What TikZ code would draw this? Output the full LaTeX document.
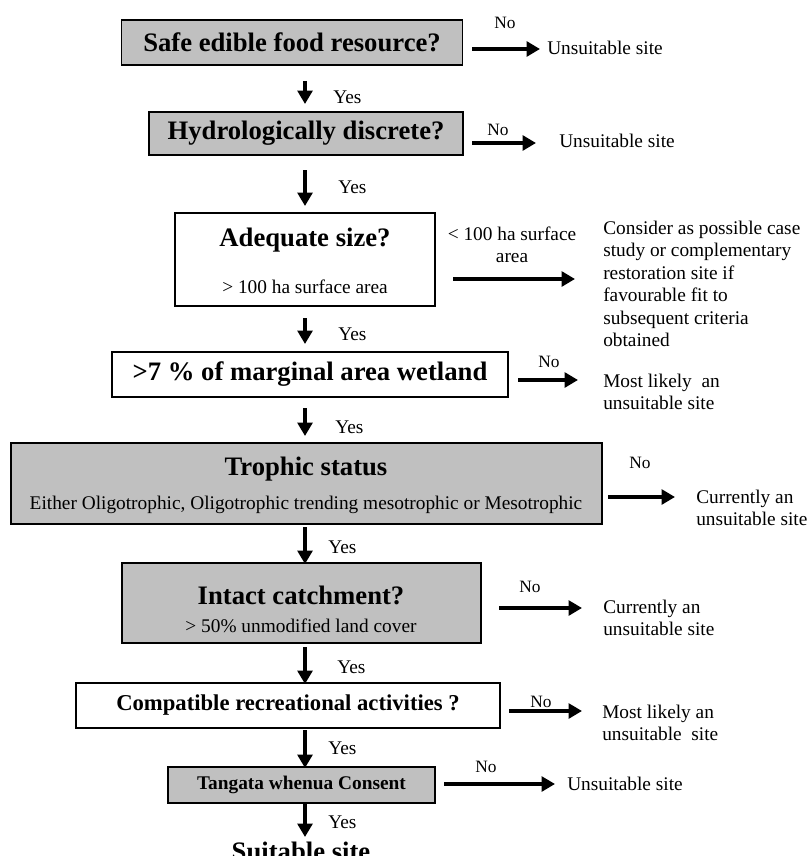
\documentclass[tikz,border=0pt]{standalone}
\usepackage{fontspec}
\setmainfont{Liberation Serif}
\usetikzlibrary{arrows.meta}
\def\pxu{0.75pt}
\newcommand\fTitle{\fontsize{20}{24}\selectfont\bfseries}
\newcommand\fMid{\fontsize{17}{20}\selectfont\bfseries}
\newcommand\fSmallB{\fontsize{14.5}{17}\selectfont\bfseries}
\newcommand\fBody{\fontsize{14.5}{16.9}\selectfont}
\newcommand\fNo{\fontsize{13}{15}\selectfont}
\definecolor{boxgray}{HTML}{C0C0C0}
\begin{document}
\begin{tikzpicture}[x=0.75pt,y=-0.75pt,
  wbox/.style={draw=black, line width=1.1pt, fill=white, inner sep=0pt},
  gbox/.style={wbox, fill=boxgray},
  txt/.style={inner sep=0pt, font=\fBody},
  nolbl/.style={inner sep=0pt, font=\fNo},
  arr/.style={line width=2.8pt, -{Triangle[length=10pt,width=11pt]}}
]
\useasboundingbox (0,0) rectangle (808,856);
\fill[white] (0,0) rectangle (808,856);

% --- 1: food resource
\node[gbox, minimum width=341*\pxu, minimum height=45*\pxu, font=\fTitle] (b1) at (292,42.5) {Safe edible food resource?};
\node[nolbl] (no1) at (505,23) {No};
\coordinate (r1a) at (472,49); \coordinate (r1b) at (540,49);
\draw[arr] (r1a) -- (r1b);
\node[txt, anchor=west] (t1) at (547,48) {Unsuitable site};
\coordinate (d1a) at (305,81); \coordinate (d1b) at (305,104);
\draw[arr] (d1a) -- (d1b);
\node[txt, anchor=west] (y1) at (333,97) {Yes};

% --- 2: hydrology
\node[gbox, minimum width=314*\pxu, minimum height=43*\pxu, font=\fTitle] (b2) at (306,133.5) {Hydrologically discrete?};
\node[nolbl] (no2) at (498,130) {No};
\coordinate (r2a) at (472,143); \coordinate (r2b) at (536,143);
\draw[arr] (r2a) -- (r2b);
\node[txt, anchor=west] (t2) at (559,141) {Unsuitable site};
\coordinate (d2a) at (305,170); \coordinate (d2b) at (305,206);
\draw[arr] (d2a) -- (d2b);
\node[txt, anchor=west] (y2) at (338,187) {Yes};

% --- 3: size
\node[wbox, minimum width=260*\pxu, minimum height=93*\pxu] (b3) at (305,259.5) {};
\node[inner sep=0pt, font=\fTitle] (b3t) at (305,240) {Adequate size?};
\node[txt] (b3s) at (305,287) {> 100 ha surface area};
\node[txt, align=center] (l3) at (512,245) {< 100 ha surface\\area};
\coordinate (r3a) at (453,279); \coordinate (r3b) at (575,279);
\draw[arr] (r3a) -- (r3b);
\node[txt, anchor=west, align=left] (t3) at (603,284)
  {Consider as possible case\\study or complementary\\restoration site if\\favourable fit to\\subsequent criteria\\obtained};
\coordinate (d3a) at (305,318); \coordinate (d3b) at (305,344);
\draw[arr] (d3a) -- (d3b);
\node[txt, anchor=west] (y3) at (338,334) {Yes};

% --- 4: marginal wetland
\node[wbox, minimum width=396*\pxu, minimum height=45*\pxu, font=\fTitle] (b4) at (310,374.5) {>7 \% of marginal area wetland};
\node[nolbl] (no4) at (549,362) {No};
\coordinate (r4a) at (518,380); \coordinate (r4b) at (578,380);
\draw[arr] (r4a) -- (r4b);
\node[txt, anchor=west, align=left] (t4) at (603,392) {Most likely~ an\\unsuitable site};
\coordinate (d4a) at (305,408); \coordinate (d4b) at (305,436);
\draw[arr] (d4a) -- (d4b);
\node[txt, anchor=west] (y4) at (335,427) {Yes};

% --- 5: trophic status
\node[gbox, minimum width=591*\pxu, minimum height=81*\pxu] (b5) at (306.5,483.5) {};
\node[inner sep=0pt, font=\fTitle] (b5t) at (306,469) {Trophic status};
\node[txt] (b5s) at (306,505) {Either Oligotrophic, Oligotrophic trending mesotrophic or Mesotrophic};
\node[nolbl] (no5) at (640,463) {No};
\coordinate (r5a) at (608,497); \coordinate (r5b) at (675,497);
\draw[arr] (r5a) -- (r5b);
\node[txt, anchor=west, align=left] (t5) at (696,508) {Currently an\\unsuitable site};
\coordinate (d5a) at (305,527); \coordinate (d5b) at (305,564);
\draw[arr] (d5a) -- (d5b);
\node[txt, anchor=west] (y5) at (328,547) {Yes};

% --- 6: catchment
\node[gbox, minimum width=359*\pxu, minimum height=80*\pxu] (b6) at (301.5,603) {};
\node[inner sep=0pt, font=\fTitle] (b6t) at (301,595) {Intact catchment?};
\node[txt] (b6s) at (301,626) {> 50\% unmodified land cover};
\node[nolbl] (no6) at (530,587) {No};
\coordinate (r6a) at (499,608); \coordinate (r6b) at (582,608);
\draw[arr] (r6a) -- (r6b);
\node[txt, anchor=west, align=left] (t6) at (603,618) {Currently an\\unsuitable site};
\coordinate (d6a) at (305,647); \coordinate (d6b) at (305,684);
\draw[arr] (d6a) -- (d6b);
\node[txt, anchor=west] (y6) at (337,667) {Yes};

% --- 7: recreation
\node[wbox, minimum width=424*\pxu, minimum height=45*\pxu, font=\fMid] (b7) at (288,705.5) {Compatible recreational activities ?};
\node[nolbl] (no7) at (541,702) {No};
\coordinate (r7a) at (509,711); \coordinate (r7b) at (582,711);
\draw[arr] (r7a) -- (r7b);
\node[txt, anchor=west, align=left] (t7) at (602,723) {Most likely an\\unsuitable~ site};
\coordinate (d7a) at (305,730); \coordinate (d7b) at (305,768);
\draw[arr] (d7a) -- (d7b);
\node[txt, anchor=west] (y7) at (328,748) {Yes};

% --- 8: consent
\node[gbox, minimum width=267*\pxu, minimum height=36*\pxu, font=\fSmallB] (b8) at (301.5,785) {Tangata whenua Consent};
\node[nolbl] (no8) at (486,767) {No};
\coordinate (r8a) at (444,784); \coordinate (r8b) at (555,784);
\draw[arr] (r8a) -- (r8b);
\node[txt, anchor=west] (t8) at (567,784) {Unsuitable site};
\coordinate (d8a) at (305,804); \coordinate (d8b) at (305,837);
\draw[arr] (d8a) -- (d8b);
\node[txt, anchor=west] (y8) at (328,822) {Yes};

\node[inner sep=0pt, font=\fTitle, anchor=base] (fin) at (301,860) {Suitable site};
\end{tikzpicture}
\end{document}
